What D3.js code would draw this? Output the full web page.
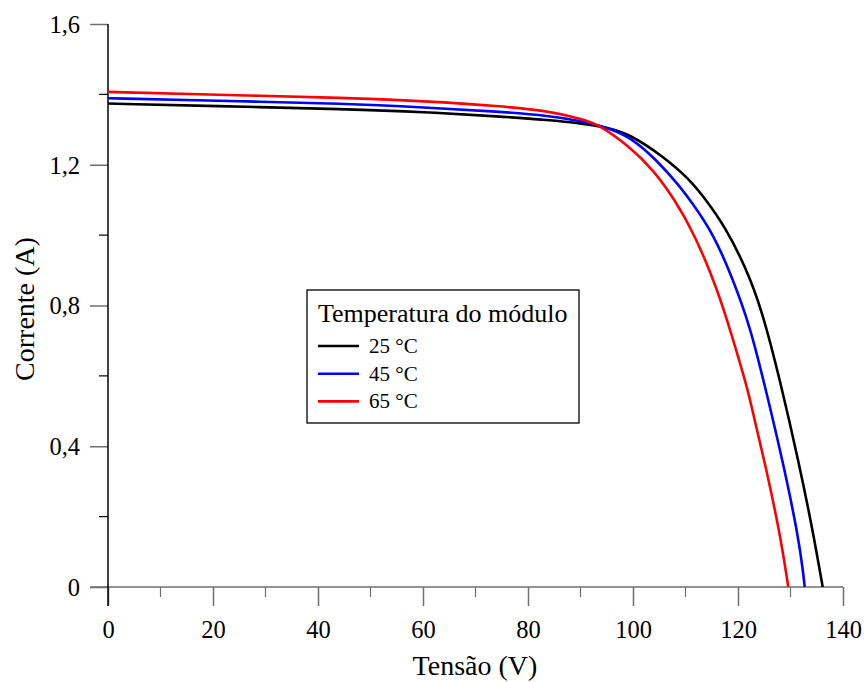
<!DOCTYPE html>
<html>
<head>
<meta charset="utf-8">
<script src="https://cdn.jsdelivr.net/npm/d3@7"></script>
<style>
  body { margin: 0; background: #fff; }
  svg { display: block; font-family: "Liberation Serif", "Times New Roman", serif; }
</style>
</head>
<body>
<svg id="chart" width="864" height="682"></svg>
<script>
// I–V curves of the PV module at three module temperatures
const series = ["25 °C", "45 °C", "65 °C"];
const colors = ["#000000", "#0000ff", "#ff0000"];

const v25 = [0, 20, 46, 60, 75, 84, 90, 95, 99.4, 105.8, 110.9, 113.9, 117.52, 121.43, 124.57, 128.0, 131.62, 134.34, 136.13];
const i25 = [1.374, 1.367, 1.358, 1.350, 1.337, 1.327, 1.318, 1.306, 1.287, 1.223, 1.157, 1.100, 1.024, 0.910, 0.787, 0.588, 0.352, 0.153, 0];

const v45 = [0, 20, 46, 60, 74.7, 84.2, 89.9, 94.7, 99.43, 104.51, 108.95, 110.86, 115.3, 119.1, 122.29, 124.86, 128.63, 131.49, 132.44, 132.7];
const i45 = [1.389, 1.382, 1.3735, 1.363, 1.351, 1.339, 1.325, 1.308, 1.280, 1.2135, 1.138, 1.100, 1.005, 0.8725, 0.740, 0.588, 0.352, 0.143, 0.039, 0];

const v65 = [0, 20, 46, 60, 74.7, 84.2, 89.9, 93.09, 99.43, 103.87, 108.0, 111.62, 115.94, 119.1, 121.33, 122.15, 125.14, 128.0, 129.58];
const i65 = [1.407, 1.399, 1.390, 1.381, 1.367, 1.352, 1.331, 1.318, 1.251, 1.185, 1.100, 1.005, 0.853, 0.702, 0.588, 0.541, 0.352, 0.153, 0];

const xMajor = [0, 20, 40, 60, 80, 100, 120, 140];
const xMinor = [10, 30, 50, 70, 90, 110, 130];
const yMajor = [0, 0.4, 0.8, 1.2, 1.6];
const yMinor = [0.2, 0.6, 1.0, 1.4];

const legendTitle = "Temperatura do módulo";
const xTitle = "Tensão (V)";
const yTitle = "Corrente (A)";

const svg = d3.select("#chart");
const x = d3.scaleLinear().domain([0, 140]).range([108, 843]);
const y = d3.scaleLinear().domain([0, 1.6]).range([587, 24]);
const fmt = d => String(d).replace(".", ",");
const gray = "#6f6f6f";

// x axis (gray line runs a little past the y axis on the left)
const gx = svg.append("g").attr("transform", "translate(0,587)");
gx.append("line").attr("x1", 90).attr("x2", 843).attr("stroke", gray).attr("stroke-width", 1.5);
gx.call(d3.axisBottom(x).tickValues(xMajor).tickSize(19).tickFormat(d => d))
  .call(g => g.select(".domain").remove())
  .call(g => g.selectAll(".tick line").attr("stroke", gray).attr("stroke-width", 1.5))
  .call(g => g.selectAll(".tick text").attr("font-size", 24.5).attr("fill", "#000")
    .attr("font-family", "Liberation Serif").attr("dy", 0).attr("y", 51));
gx.selectAll(".minor").data(xMinor).join("line")
  .attr("x1", d => x(d)).attr("x2", d => x(d)).attr("y1", 0).attr("y2", 10)
  .attr("stroke", gray).attr("stroke-width", 1.2);

// y axis
const gy = svg.append("g").attr("transform", "translate(108,0)");
gy.call(d3.axisLeft(y).tickValues(yMajor).tickSize(18).tickFormat(fmt))
  .call(g => g.select(".domain").remove())
  .call(g => g.selectAll(".tick line").attr("stroke", gray).attr("stroke-width", 1.5))
  .call(g => g.selectAll(".tick text").attr("font-size", 24.5).attr("fill", "#000")
    .attr("font-family", "Liberation Serif").attr("x", -28).attr("dy", "0.34em"));
gy.selectAll(".minor").data(yMinor).join("line")
  .attr("x1", -9).attr("x2", 0).attr("y1", d => y(d)).attr("y2", d => y(d))
  .attr("stroke", "#000").attr("stroke-width", 1.2);
gy.append("line").attr("y1", 24).attr("y2", 606).attr("stroke", "#000").attr("stroke-width", 1.5);

// axis titles
svg.append("text").attr("x", 475).attr("y", 675).attr("text-anchor", "middle")
  .attr("font-size", 28).text(xTitle);
svg.append("text").attr("transform", "translate(34,309) rotate(-90)")
  .attr("text-anchor", "middle").attr("font-size", 28).text(yTitle);

// curves
const data = [
  v25.map((v, k) => [v, i25[k]]),
  v45.map((v, k) => [v, i45[k]]),
  v65.map((v, k) => [v, i65[k]])
];
const line = d3.line().x(d => x(d[0])).y(d => y(d[1])).curve(d3.curveBasis);
svg.append("g").selectAll("path").data(data).join("path")
  .attr("d", line).attr("fill", "none")
  .attr("stroke", (d, k) => colors[k]).attr("stroke-width", 2.6)
  .attr("stroke-linejoin", "round");

// legend
const lg = svg.append("g");
lg.append("rect").attr("x", 307).attr("y", 290).attr("width", 272).attr("height", 133)
  .attr("fill", "#fff").attr("stroke", "#000").attr("stroke-width", 1.3);
lg.append("text").attr("x", 318).attr("y", 322).attr("font-size", 26).text(legendTitle);
series.forEach((s, k) => {
  const yy = 346 + k * 27.7;
  lg.append("line").attr("x1", 318).attr("x2", 359).attr("y1", yy).attr("y2", yy)
    .attr("stroke", colors[k]).attr("stroke-width", 2.6);
  lg.append("text").attr("x", 369).attr("y", yy + 7).attr("font-size", 21).text(s);
});
</script>
</body>
</html>
